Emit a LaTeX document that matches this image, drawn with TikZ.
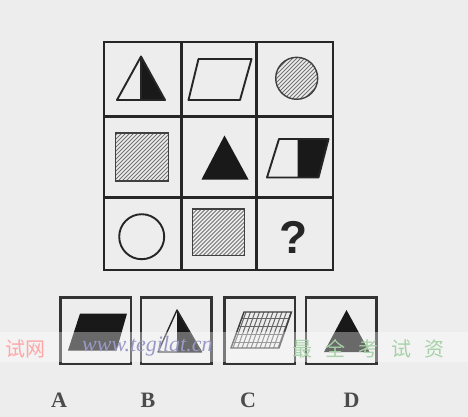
\documentclass[tikz,border=0pt]{standalone}
\usepackage{fontspec}
\setmainfont{Liberation Serif}
\newfontfamily\qfont{Liberation Sans}
\newfontfamily\cjkfont{Noto Sans CJK SC}
\begin{document}
\begin{tikzpicture}[x=1pt,y=-1pt,
  gridline/.style={draw=black!85,line width=2.3pt},
  shapeline/.style={draw=black!85,line width=1.9pt,line join=round},
  hatchedge/.style={draw=black!75,line width=1.4pt},
  hatch/.style={draw=black!55,line width=1pt},
  optbox/.style={draw=black!80,line width=2.3pt},
  lbl/.style={font=\bfseries\fontsize{22}{24}\selectfont,text=black!70,inner sep=0pt},
  wm/.style={inner sep=0pt,anchor=west}]
\useasboundingbox (0,0) rectangle (468,417);
\fill[black!7] (0,0) rectangle (468,417);
% grid
\draw[gridline] (104,42) rectangle (333,270);
\draw[gridline] (181.5,42) -- (181.5,270);
\draw[gridline] (256.5,42) -- (256.5,270);
\draw[gridline] (104,116.5) -- (333,116.5);
\draw[gridline] (104,197.5) -- (333,197.5);
% cell 1,1 half-black triangle
\fill[black!90] (141,56.5) -- (165,100) -- (141,100) -- cycle;
\draw[shapeline] (141,56.5) -- (165,100) -- (117,100) -- cycle;
\draw[shapeline] (141,56.5) -- (141,100);
% cell 1,2 parallelogram
\draw[shapeline] (198.5,59) -- (251.5,59) -- (240,100) -- (188.5,100) -- cycle;
% cell 1,3 hatched circle
\begin{scope}
\clip (296.7,78.3) circle[radius=21pt];
\foreach \i in {-48,-44,...,48}
  \draw[hatch] (296.7+\i-25,78.3+25) -- (296.7+\i+25,78.3-25);
\end{scope}
\draw[hatchedge] (296.7,78.3) circle[radius=21pt];
% cell 2,1 hatched square
\begin{scope}
\clip (115.5,133) rectangle (168.5,181);
\foreach \i in {-56,-52,...,56}
  \draw[hatch] (142+\i-30,157+30) -- (142+\i+30,157-30);
\end{scope}
\draw[hatchedge] (115.5,133) rectangle (168.5,181);
% cell 2,2 black triangle
\fill[black!90] (224.5,135.5) -- (248.5,179.5) -- (201.5,179.5) -- cycle;
% cell 2,3 half black parallelogram
\fill[black!90] (297.5,139) -- (328.5,139) -- (318.5,177.5) -- (297.5,177.5) -- cycle;
\draw[shapeline] (279,139) -- (328.5,139) -- (318.5,177.5) -- (267,177.5) -- cycle;
% cell 3,1 circle
\draw[shapeline] (141.7,236.7) circle[radius=22.5pt];
% cell 3,2 hatched square
\begin{scope}
\clip (192.5,209) rectangle (244.5,255.5);
\foreach \i in {-56,-52,...,56}
  \draw[hatch] (218.5+\i-30,232+30) -- (218.5+\i+30,232-30);
\end{scope}
\draw[hatchedge] (192.5,209) rectangle (244.5,255.5);
% cell 3,3 question mark
\node[inner sep=0pt,font=\qfont\bfseries\fontsize{46}{48}\selectfont,text=black!85] (q) at (293.5,237) {?};
% option boxes
\draw[optbox] (60.5,297.5) rectangle (131,364);
\draw[optbox] (141,297.5) rectangle (211.5,364);
\draw[optbox] (224.5,297.5) rectangle (295,364);
\draw[optbox] (306,297.5) rectangle (376.5,364);
% A black parallelogram
\fill[black!90] (80,313.5) -- (127,313.5) -- (116.5,350.5) -- (68,350.5) -- cycle;
% B half black triangle
\fill[black!90] (177,310) -- (201.5,352) -- (177,352) -- cycle;
\draw[shapeline,line width=1.4pt] (177,310) -- (201.5,352) -- (158,352) -- cycle;
% C hatched parallelogram
\begin{scope}
\clip (244,312) -- (291.5,312) -- (279,348) -- (231,348) -- cycle;
\foreach \i in {-16,-11.5,...,70}
  \draw[hatch,draw=black!60] (231+\i,348) -- (244+\i,312);
\foreach \j in {318,326,334,342}
  \draw[hatch,draw=black!60] (225,\j) -- (295,\j);
\end{scope}
\draw[hatchedge] (244,312) -- (291.5,312) -- (279,348) -- (231,348) -- cycle;
% D black triangle
\fill[black!90] (346.5,310) -- (369.5,352) -- (324,352) -- cycle;
% labels
\node[lbl] (la) at (59,400.5) {A};
\node[lbl] (lb) at (148,400.5) {B};
\node[lbl] (lc) at (248,400.5) {C};
\node[lbl] (ld) at (351.5,400.5) {D};
% watermark band
\fill[white,opacity=0.35] (0,332) rectangle (468,362);
\node[wm,font=\cjkfont\fontsize{20}{22}\selectfont,text=red!35] (w1) at (5,349) {试网};
\node[wm,font=\itshape\fontsize{22}{24}\selectfont,text=blue!45!black!40] (w2) at (82,346) {www.tegilat.cn};
\node[wm,font=\cjkfont\fontsize{20}{22}\selectfont,text=green!50!black!35] (w3) at (292,349) {最\hspace{13pt}全\hspace{13pt}考\hspace{13pt}试\hspace{13pt}资};
\end{tikzpicture}
\end{document}
